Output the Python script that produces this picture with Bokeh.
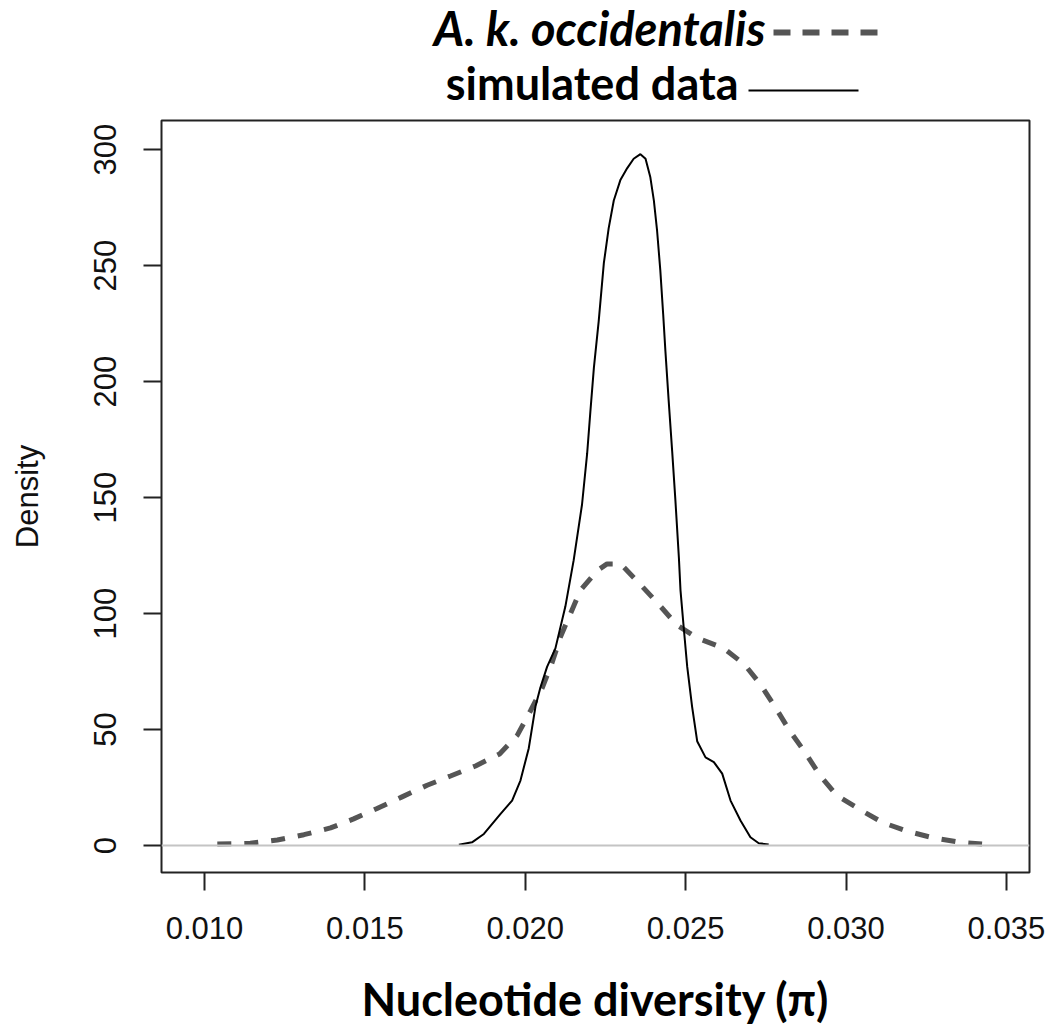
from bokeh.plotting import figure
from bokeh.layouts import column
from bokeh.models import FixedTicker, NumeralTickFormatter, Span
from bokeh.core.properties import value
from bokeh.embed import file_html
from bokeh.resources import INLINE

# ---- data ----
sim_x = [0.01793, 0.01834, 0.01871, 0.01923, 0.01959, 0.01985, 0.02011, 0.02032,
         0.02047, 0.02068, 0.02094, 0.02125, 0.02151, 0.02177, 0.02193, 0.02203,
         0.02214, 0.02229, 0.02245, 0.02260, 0.02276, 0.02297, 0.02318, 0.02338,
         0.02359, 0.02375, 0.02390, 0.02401, 0.02411, 0.02421, 0.02430, 0.02437,
         0.02447, 0.02458, 0.02468, 0.02479, 0.02484, 0.02494, 0.02505, 0.02520,
         0.02536, 0.02562, 0.02588, 0.02614, 0.02640, 0.02671, 0.02702, 0.02728,
         0.02759]
sim_y = [0.4, 1.4, 5, 13.7, 19.4, 28, 42, 60,
         68, 77, 85, 103, 123, 147, 169, 187,
         206, 226, 251, 266, 278, 287, 292, 296,
         298, 296, 288, 278, 265, 248, 229, 213,
         192, 170, 149, 124, 110, 94, 77, 60,
         45, 38, 36, 31, 19.4, 10.8, 3.6, 1.0,
         0.5]

occ_x = [0.0104, 0.01143, 0.01227, 0.0131, 0.01393, 0.01465, 0.01538, 0.01616,
         0.01694, 0.01767, 0.01845, 0.01920, 0.01975, 0.02016, 0.02053, 0.02084,
         0.0211, 0.02141, 0.02172, 0.02224, 0.02255, 0.02297, 0.02349, 0.02416,
         0.02473, 0.02536, 0.02619, 0.02684, 0.02733, 0.0278, 0.02822, 0.02873,
         0.0292, 0.02972, 0.0304, 0.03113, 0.0319, 0.03273, 0.03357, 0.03424]
occ_y = [0.7, 1, 2.4, 4.7, 7.6, 11.5, 16, 21,
         26, 30, 34.3, 39.5, 47.5, 58, 68, 79,
         90, 100, 110, 118.5, 121.4, 121.4, 114, 104,
         95, 89.5, 85, 78, 69.5, 59.5, 50, 40,
         30, 21.5, 15.8, 10, 6.2, 3.3, 1.4, 0.7]

x_ticks = [0.010, 0.015, 0.020, 0.025, 0.030, 0.035]
y_ticks = [0, 50, 100, 150, 200, 250, 300]

series_names = ["A. k. occidentalis", "simulated data"]
x_title = "Nucleotide diversity (\u03c0)"
y_title = "Density"

TICK_FONT = "Liberation Sans"
BOLD_FONT = "Lato"

LEFT, RIGHT, FW = 161, 23, 868

# ---- legend strip at the top (coordinates = page pixels) ----
leg = figure(frame_width=FW, frame_height=118,
             x_range=(LEFT, LEFT + FW), y_range=(118, 0),
             x_axis_location=None, y_axis_location=None,
             output_backend="svg", toolbar_location=None,
             min_border_left=LEFT, min_border_right=RIGHT,
             min_border_top=0, min_border_bottom=0,
             outline_line_color=None)
leg.grid.visible = False
leg.text(x=[765], y=[27], text=[series_names[0]], text_align="right",
         text_baseline="alphabetic", text_font=value(BOLD_FONT),
         text_font_style="bold italic", text_font_size="47px", text_color="#000000")
leg.segment(x0=[773], y0=[32], x1=[885], y1=[32], line_color="#555555",
            line_width=6, line_dash="17 12")
leg.text(x=[738], y=[82], text=[series_names[1]], text_align="right",
         text_baseline="alphabetic", text_font=value(BOLD_FONT),
         text_font_style="bold", text_font_size="45px", text_color="#000000")
leg.segment(x0=[748], y0=[90], x1=[858], y1=[90], line_color="#000000",
            line_width=2)

# ---- main plot ----
p = figure(frame_width=FW, frame_height=752,
           x_range=(0.00866, 0.03572), y_range=(-11.6, 312.5),
           output_backend="svg", toolbar_location=None,
           min_border_left=LEFT, min_border_right=RIGHT,
           min_border_top=2, min_border_bottom=154)
p.grid.visible = False
p.outline_line_color = "#222222"
p.outline_line_width = 2

p.add_layout(Span(location=0, dimension="width", line_color="#c4c4c4",
                  line_width=2))

p.line(occ_x, occ_y, line_color="#555555", line_width=5, line_dash="14 13")
p.line(sim_x, sim_y, line_color="#000000", line_width=2)

for ax in (p.xaxis[0], p.yaxis[0]):
    ax.axis_line_color = None
    ax.major_tick_in = 0
    ax.major_tick_out = 18
    ax.major_tick_line_width = 2
    ax.major_tick_line_color = "#222222"
    ax.minor_tick_line_color = None
    ax.major_label_text_font = TICK_FONT
    ax.major_label_text_font_size = "31px"
    ax.major_label_text_color = "#111111"

p.xaxis.ticker = FixedTicker(ticks=x_ticks)
p.xaxis.formatter = NumeralTickFormatter(format="0.000")
p.xaxis.major_label_standoff = 26
p.xaxis.axis_label = x_title
p.xaxis.axis_label_text_font = BOLD_FONT
p.xaxis.axis_label_text_font_style = "bold"
p.xaxis.axis_label_text_font_size = "45px"
p.xaxis.axis_label_text_color = "#000000"
p.xaxis.axis_label_standoff = 30

p.yaxis.ticker = FixedTicker(ticks=y_ticks)
p.yaxis.major_label_orientation = "vertical"
p.yaxis.major_label_standoff = 27
p.yaxis.axis_label = y_title
p.yaxis.axis_label_text_font = TICK_FONT
p.yaxis.axis_label_text_font_style = "normal"
p.yaxis.axis_label_text_font_size = "31px"
p.yaxis.axis_label_text_color = "#111111"
p.yaxis.axis_label_standoff = 47

layout = column(leg, p, spacing=0)
open("out.html", "w").write(file_html(layout, INLINE))
